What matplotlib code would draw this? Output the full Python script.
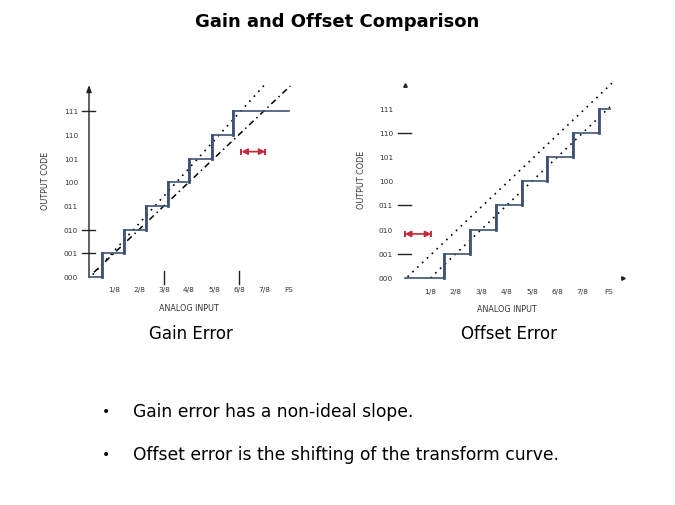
import matplotlib.pyplot as plt

# ---- data ----
codes = ['000', '001', '010', '011', '100', '101', '110', '111']
x_labels = ['1/8', '2/8', '3/8', '4/8', '5/8', '6/8', '7/8', 'FS']

# gain error: transition points (in 1/8 of FS) and staircase end
gain_steps = [0.5, 1.38, 2.26, 3.14, 4.02, 4.9, 5.78]
gain_end = 8.0
gain_line_x = [0.15, 7.05]
gain_line_y = [0.10, 8.14]
ideal_gain_x = [0.2, 8.05]
ideal_gain_y = [0.2, 8.06]
gain_arrow = (6.1, 7.05, 5.29)
gain_yticks = [1, 2, 7]
gain_xticks = [3, 6]

# offset error
offset_steps = [1.55, 2.56, 3.58, 4.6, 5.6, 6.6, 7.62]
offset_end = 8.07
ideal_off_x = [0.1, 8.15]
ideal_off_y = [0.05, 8.05]
shift_off_x = [1.0, 8.07]
shift_off_y = [0.0, 7.07]
offset_arrow = (0.0, 1.03, 1.82)
offset_yticks = [1, 3, 6]

W, H = 675, 506
STEP_C = '#3e5372'
RED = '#c8283c'

fig = plt.figure(figsize=(6.75, 5.06), dpi=100)


def make_ax(ox, oy, sx, sy, xlim, ylim):
    left = (ox + sx * xlim[0]) / W
    width = sx * (xlim[1] - xlim[0]) / W
    bottom = 1 - (oy - sy * ylim[0]) / H
    height = sy * (ylim[1] - ylim[0]) / H
    ax = fig.add_axes([left, bottom, width, height])
    ax.set_xlim(*xlim)
    ax.set_ylim(*ylim)
    ax.axis('off')
    return ax


def staircase(ax, steps, end):
    xs, ys = [0], [0]
    for i, s in enumerate(steps):
        xs += [s, s]
        ys += [i, i + 1]
    xs.append(end)
    ys.append(len(steps))
    ax.plot(xs, ys, color=STEP_C, lw=1.2, solid_joinstyle='miter', zorder=3)
    for i, s in enumerate(steps):
        ax.plot([s, s], [i, i + 1], color=STEP_C, lw=2.0, zorder=4)


def labels(ax, lab_x, xlab_y, title_y, ocode_x):
    for i, c in enumerate(codes):
        ax.text(lab_x, i, c, ha='right', va='center', fontsize=5.3,
                color='#333333', clip_on=False)
    for i, t in enumerate(x_labels):
        ax.text(i + 1, xlab_y, t, ha='center', va='center', fontsize=5.3,
                color='#333333', clip_on=False)
    ax.text(4.0, title_y, 'ANALOG INPUT', ha='center', va='center',
            fontsize=5.8, color='#333333', clip_on=False)
    ax.text(ocode_x, 4.1, 'OUTPUT CODE', ha='center', va='center',
            rotation=90, fontsize=5.8, color='#333333', clip_on=False)


def red_arrow(ax, a):
    x0, x1, y = a
    ax.annotate('', xy=(x1, y), xytext=(x0, y),
                arrowprops=dict(arrowstyle='<|-|>,head_length=0.35,head_width=0.18',
                                color=RED, lw=1.2, shrinkA=0, shrinkB=0))
    ax.plot([x0, x1], [y, y], ls='none', marker='|', ms=5, mew=1.4, color=RED)


# ---- left: gain error ----
axl = make_ax(89, 278, 25.0, 23.7, (-1.2, 8.6), (-0.6, 8.4))
axl.annotate('', xy=(0, 8.1), xytext=(0, 0),
             arrowprops=dict(arrowstyle='-|>,head_length=0.4,head_width=0.15',
                             color='#222222', lw=1.0, shrinkA=0, shrinkB=0))
for t in gain_yticks:
    axl.plot([-0.28, 0.24], [t, t], color='#222222', lw=1.0)
for t in gain_xticks:
    axl.plot([t, t], [-0.3, 0.25], color='#222222', lw=1.0)
staircase(axl, gain_steps, gain_end)
axl.plot(gain_line_x, gain_line_y, color='black', lw=1.2, ls=(0, (1, 3)))
axl.plot(ideal_gain_x, ideal_gain_y, color='black', lw=1.1, ls=(0, (4, 2.5, 1, 2.5)))
red_arrow(axl, gain_arrow)
labels(axl, -0.44, -0.5, -1.27, -1.76)

# ---- right: offset error ----
axr = make_ax(405, 279, 25.4, 24.2, (-1.2, 8.8), (-0.6, 8.4))
axr.plot([0], [7.98], marker='^', ms=2.5, color='#222222', clip_on=False)
axr.plot([8.58], [0], marker='>', ms=2.5, color='#222222', clip_on=False)
for t in offset_yticks:
    axr.plot([-0.28, 0.24], [t, t], color='#222222', lw=1.0)
staircase(axr, offset_steps, offset_end)
axr.plot(ideal_off_x, ideal_off_y, color='black', lw=1.2, ls=(0, (1, 3)))
axr.plot(shift_off_x, shift_off_y, color='black', lw=1.2, ls=(0, (1, 3)))
red_arrow(axr, offset_arrow)
labels(axr, -0.47, -0.54, -1.24, -1.73)

# ---- slide text ----
fig.text(337 / W, 1 - 22 / H, 'Gain and Offset Comparison', ha='center',
         va='center', fontsize=13, fontweight='bold', family='DejaVu Sans')
fig.text(191 / W, 1 - 334 / H, 'Gain Error', ha='center', va='center',
         fontsize=12, family='DejaVu Sans')
fig.text(509 / W, 1 - 334 / H, 'Offset Error', ha='center', va='center',
         fontsize=12, family='DejaVu Sans')
bullets = ['Gain error has a non-ideal slope.',
           'Offset error is the shifting of the transform curve.']
for i, b in enumerate(bullets):
    y = 1 - (412 + 43 * i) / H
    fig.text(106 / W, y, '\u2022', ha='center', va='center', fontsize=10)
    fig.text(133 / W, y, b, ha='left', va='center', fontsize=12.3)

fig.savefig('out.png', dpi=100)
